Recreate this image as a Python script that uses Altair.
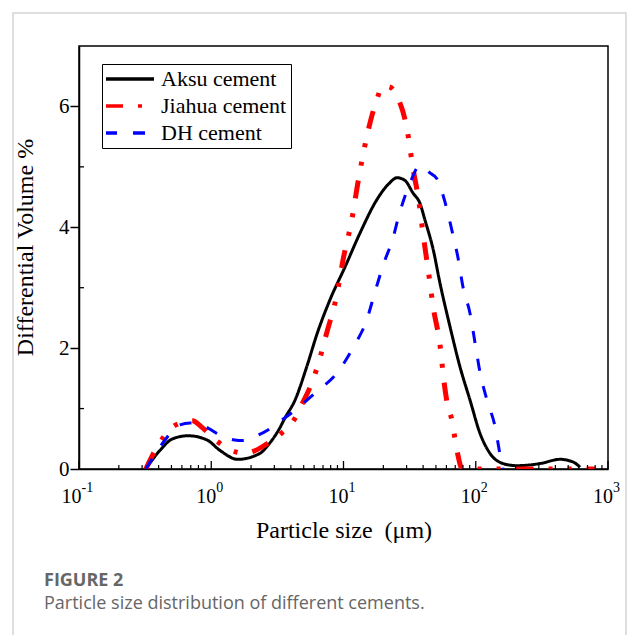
import altair as alt
import pandas as pd

series_names = ["Aksu cement", "Jiahua cement", "DH cement"]
series_colors = ["#000000", "#ff0000", "#0000ff"]
series_dashes = [[1, 0], [18, 15, 4, 15, 4, 15], [12, 16]]
series_widths = [3, 5, 3]

aksu_size = [0.32, 0.41, 0.51, 0.67, 0.93, 1.16, 1.59, 2.34, 2.63, 3.3, 3.6, 4.3, 5.27, 6.34, 7.9,
             10.3, 13.3, 17.8, 22, 25.4, 29, 33.7, 37.8, 41.3, 47.8, 53.7, 63.8, 76, 90.5, 107.7,
             128, 161, 204, 306, 434, 540, 615]
aksu_vol = [0, 0.31, 0.50, 0.55, 0.48, 0.31, 0.16, 0.26, 0.37, 0.68, 0.84, 1.14, 1.69, 2.25, 2.8,
            3.35, 3.9, 4.45, 4.72, 4.82, 4.78, 4.56, 4.4, 4.12, 3.62, 3.07, 2.36, 1.69, 1.14, 0.59,
            0.26, 0.09, 0.055, 0.09, 0.16, 0.12, 0.03]

jiahua_size = [0.32, 0.36, 0.43, 0.54, 0.72, 0.86, 1.12, 1.55, 1.8, 2.07, 2.69, 3.43, 4.3, 4.9, 5.7,
               6.3, 7.5, 8.8, 10.0, 11.5, 13.0, 15.0, 17.6, 20, 22.5, 25.4, 30.3, 33.5, 37.2, 39.9,
               44.3, 47.5, 53.7, 57.5, 60.7, 66.1, 69.7, 73.5, 79, 800]
jiahua_vol = [0, 0.23, 0.51, 0.73, 0.80, 0.68, 0.45, 0.28, 0.26, 0.29, 0.43, 0.60, 0.84, 1.09, 1.40,
              1.67, 2.27, 2.83, 3.50, 4.1, 4.8, 5.5, 6.07, 6.34, 6.32, 6.17, 5.61, 4.98, 4.42, 3.9,
              3.2, 2.7, 2.05, 1.45, 1.1, 0.8, 0.5, 0.22, 0, 0]

dh_size = [0.32, 0.43, 0.58, 0.69, 0.85, 1.1, 1.5, 1.74, 2.2, 2.7, 3.03, 4.17, 6.27, 8.87, 11.9, 15,
           17.3, 20, 23.8, 25.9, 31.8, 37.8, 45, 51, 58.5, 66, 73.5, 80.1, 90.6, 98.9, 107.7, 121.6,
           140, 152, 160.7]
dh_vol = [0, 0.43, 0.73, 0.76, 0.73, 0.59, 0.48, 0.47, 0.55, 0.65, 0.73, 0.95, 1.28, 1.58, 2.02, 2.47,
          2.93, 3.38, 3.84, 4.15, 4.73, 5.02, 4.9, 4.8, 4.42, 3.95, 3.49, 3.01, 2.57, 2.08, 1.6, 1.14,
          0.7, 0.26, 0]

x_tick_values = [0.1, 1, 10, 100, 1000]
x_tick_base = "10"
x_tick_exponents = ["-1", "0", "1", "2", "3"]
x_minor_values = [m * 10 ** k for k in range(-1, 3) for m in range(2, 10)]
y_tick_values = [0, 2, 4, 6]
y_minor_values = [1, 3, 5]

x_title = "Particle size\u00a0 (μm)"
y_title = "Differential Volume %"
caption_head = "FIGURE 2"
caption_text = "Particle size distribution of different cements."

rows = []
for name, sizes, vols, lw in zip(series_names, [aksu_size, jiahua_size, dh_size],
                                 [aksu_vol, jiahua_vol, dh_vol], series_widths):
    for s, v in zip(sizes, vols):
        rows.append({"series": name, "size": s, "volume": v, "lw": lw})
df = pd.DataFrame(rows)

exp_df = pd.DataFrame({"size": x_tick_values, "exp": x_tick_exponents})
exp_neg = exp_df[exp_df["exp"].str.startswith("-")]
exp_pos = exp_df[~exp_df["exp"].str.startswith("-")]

W, H = 529, 423
SERIF = "Liberation Serif"
xscale = alt.Scale(type="log", domain=[0.1, 1000], nice=False)
yscale = alt.Scale(domain=[0, 7], nice=False)

leg = alt.Legend(
    title=None, orient="none", legendX=23, legendY=18, symbolType="stroke",
    symbolSize=2401, symbolStrokeWidth=3.5, symbolOffset=-3, clipHeight=22,
    labelFont=SERIF, labelFontSize=22, labelColor="black", labelOffset=5, labelLimit=300,
    strokeColor="black", fillColor="white", padding=4, rowPadding=5,
)

card = alt.Chart(pd.DataFrame({"k": [0]})).mark_rect(
    fillOpacity=0, stroke="#d4d4d4", strokeWidth=1.5, clip=False
).encode(x=alt.value(-66), x2=alt.value(547), y=alt.value(-33), y2=alt.value(640))

lines = alt.Chart(df).mark_line(interpolate="monotone", strokeCap="butt", clip=True).encode(
    x=alt.X("size:Q", scale=xscale,
            axis=alt.Axis(values=x_tick_values, labelExpr=f"'{x_tick_base}'", ticks=False, tickSize=0,
                          labelAlign="right", labelBaseline="alphabetic", labelPadding=33,
                          labelOffset={"condition": {"test": "datum.value < 0.5", "value": 2},
                                       "value": 4.5},
                          title=x_title, titlePadding=12, grid=False,
                          labelFontSize=20, titleFontSize=24)),
    y=alt.Y("volume:Q", scale=yscale,
            axis=alt.Axis(values=y_tick_values, format="d", title=y_title, tickSize=9,
                          labelPadding=1, titlePadding=21, titleY=201, grid=False,
                          labelFontSize=21, titleFontSize=24)),
    color=alt.Color("series:N", scale=alt.Scale(domain=series_names, range=series_colors), legend=leg),
    strokeDash=alt.StrokeDash("series:N", scale=alt.Scale(domain=series_names, range=series_dashes),
                              legend=leg),
    strokeWidth=alt.StrokeWidth("lw:Q", scale=None, legend=None),
)

x_major = alt.Chart(pd.DataFrame({"size": x_tick_values})).mark_rule(color="black", strokeWidth=1.3).encode(
    x=alt.X("size:Q", scale=xscale), y=alt.value(H), y2=alt.value(H - 8))
x_minor = alt.Chart(pd.DataFrame({"size": x_minor_values})).mark_rule(color="black", strokeWidth=1.2).encode(
    x=alt.X("size:Q", scale=xscale), y=alt.value(H), y2=alt.value(H - 4))
y_minor = alt.Chart(pd.DataFrame({"volume": y_minor_values})).mark_rule(color="black", strokeWidth=1.3).encode(
    y=alt.Y("volume:Q", scale=yscale), x=alt.value(0), x2=alt.value(5))

sup_style = dict(align="left", baseline="alphabetic", font=SERIF, fontSize=14, color="black")
sup_neg = alt.Chart(exp_neg).mark_text(dx=2.5, **sup_style).encode(
    x=alt.X("size:Q", scale=xscale), y=alt.value(H + 23), text="exp:N")
sup_pos = alt.Chart(exp_pos).mark_text(dx=5, **sup_style).encode(
    x=alt.X("size:Q", scale=xscale), y=alt.value(H + 23), text="exp:N")

cap1 = alt.Chart(pd.DataFrame({"t": [caption_head]})).mark_text(
    align="left", baseline="alphabetic", font="Open Sans", fontSize=18, fontWeight="bold",
    color="#666666"
).encode(text="t:N", x=alt.value(-35), y=alt.value(540))
cap2 = alt.Chart(pd.DataFrame({"t": [caption_text]})).mark_text(
    align="left", baseline="alphabetic", font="Open Sans", fontSize=18, color="#666666"
).encode(text="t:N", x=alt.value(-35), y=alt.value(563))

chart = alt.layer(card, lines, x_major, x_minor, y_minor, sup_neg, sup_pos, cap1, cap2).properties(
    width=W, height=H,
    autosize=alt.AutoSizeParams(type="none"),
    padding={"left": 79, "top": 46, "right": 22, "bottom": 166},
    background="white",
).configure_view(stroke="black", strokeWidth=1.5).configure_axis(
    labelFont=SERIF, labelColor="black", titleFont=SERIF,
    titleFontWeight="normal", titleColor="black", domainColor="black", domainWidth=1.5,
    tickColor="black", tickWidth=1.5,
)

chart.save("out.html", embed_options={"renderer": "svg", "actions": False})
